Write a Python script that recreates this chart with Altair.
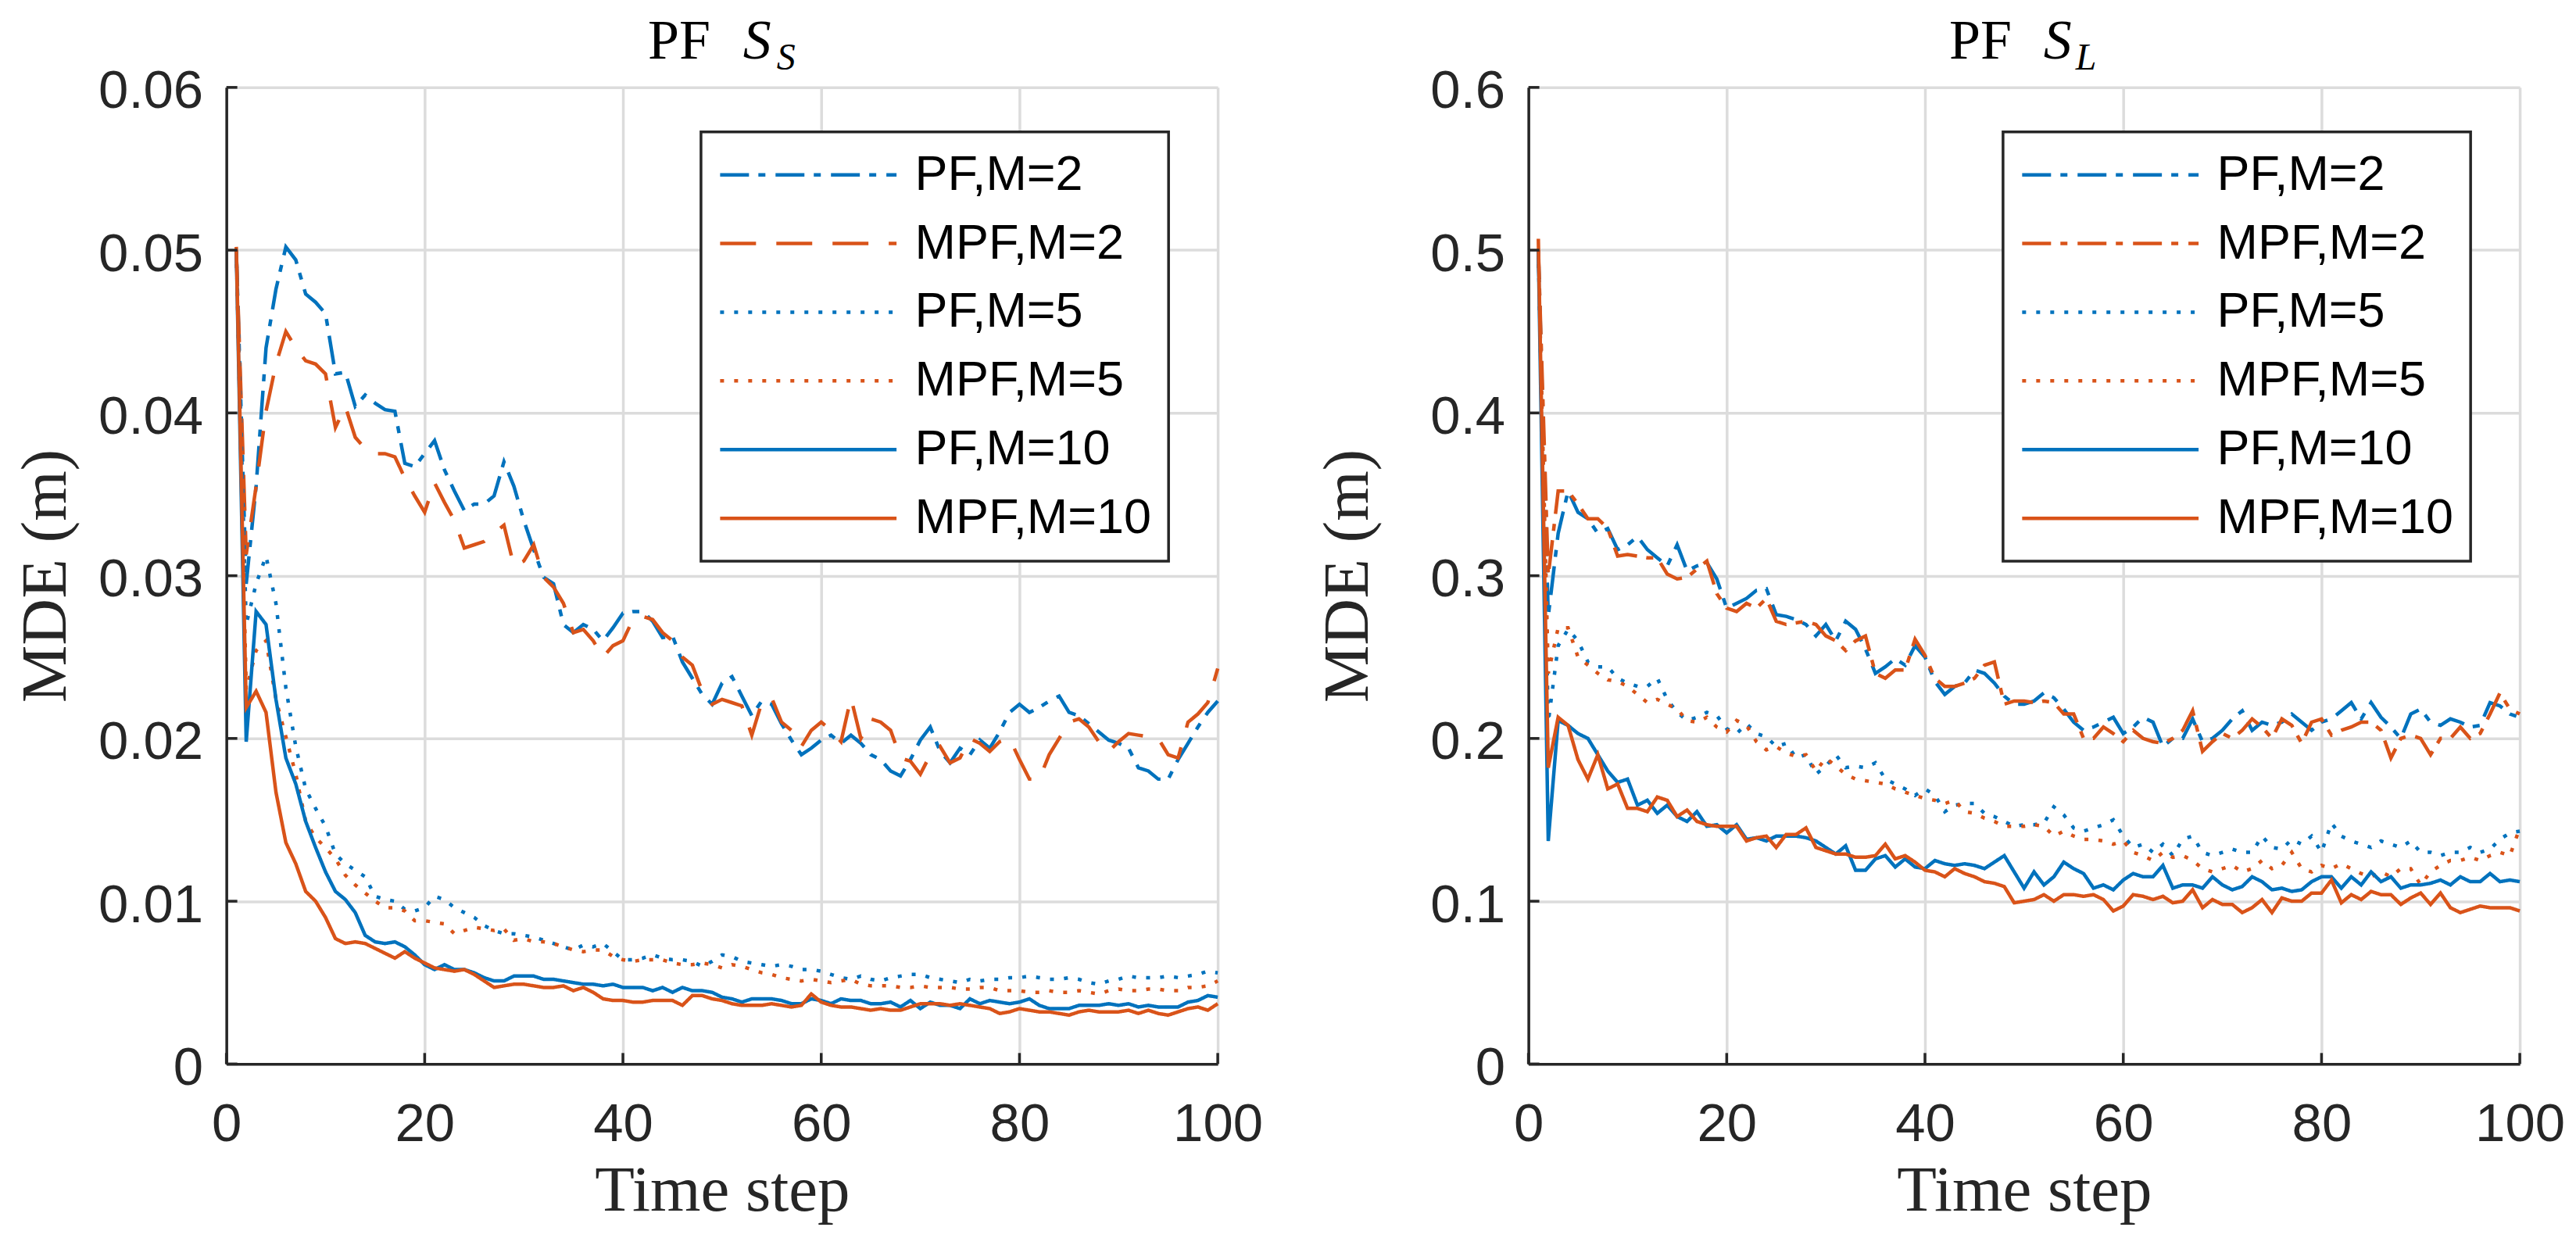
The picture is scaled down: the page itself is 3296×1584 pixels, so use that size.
import altair as alt
import pandas as pd

# ---------------- data ----------------
time_steps = list(range(1, 101))
series_names = ["PF,M=2", "MPF,M=2", "PF,M=5", "MPF,M=5", "PF,M=10", "MPF,M=10"]

x_ticks = [0, 20, 40, 60, 80, 100]
ss_y_ticks = [0, 0.01, 0.02, 0.03, 0.04, 0.05, 0.06]
sl_y_ticks = [0, 0.1, 0.2, 0.3, 0.4, 0.5, 0.6]

ss_title = ["PF", "S", "S"]
sl_title = ["PF", "S", "L"]
x_title = "Time step"
y_title = "MDE (m)"

# Left panel (S_S)
ss_pf2 = [0.0500, 0.0295, 0.0355, 0.0440, 0.0476, 0.0502, 0.0494, 0.0473, 0.0468, 0.0461,
          0.0424, 0.0425, 0.0404, 0.0411, 0.0406, 0.0402, 0.0401, 0.0369, 0.0367, 0.0375,
          0.0383, 0.0365, 0.0352, 0.0340, 0.0344, 0.0344, 0.0349, 0.0370, 0.0355, 0.0334,
          0.0316, 0.0299, 0.0295, 0.0270, 0.0265, 0.0270, 0.0267, 0.0260, 0.0268, 0.0277,
          0.0278, 0.0278, 0.0272, 0.0262, 0.0263, 0.0247, 0.0237, 0.0227, 0.0221, 0.0234,
          0.0238, 0.0226, 0.0214, 0.0223, 0.0221, 0.0209, 0.0199, 0.0190, 0.0194, 0.0199,
          0.0202, 0.0197, 0.0202, 0.0197, 0.0190, 0.0187, 0.0180, 0.0177, 0.0187, 0.0199,
          0.0207, 0.0192, 0.0185, 0.0194, 0.0190, 0.0199, 0.0194, 0.0204, 0.0216, 0.0221,
          0.0216, 0.0219, 0.0223, 0.0226, 0.0216, 0.0214, 0.0209, 0.0204, 0.0199, 0.0197,
          0.0194, 0.0182, 0.0180, 0.0175, 0.0175, 0.0187, 0.0197, 0.0207, 0.0216, 0.0223]
ss_mpf2 = [0.0500, 0.0313, 0.0355, 0.0401, 0.0430, 0.0450, 0.0440, 0.0432, 0.0430, 0.0424,
           0.0391, 0.0404, 0.0385, 0.0378, 0.0375, 0.0375, 0.0373, 0.0360, 0.0349, 0.0339,
           0.0357, 0.0345, 0.0334, 0.0317, 0.0319, 0.0321, 0.0326, 0.0331, 0.0306, 0.0309,
           0.0319, 0.0299, 0.0293, 0.0283, 0.0265, 0.0267, 0.0260, 0.0250, 0.0257, 0.0260,
           0.0273, 0.0275, 0.0273, 0.0265, 0.0260, 0.0250, 0.0245, 0.0229, 0.0221, 0.0224,
           0.0222, 0.0220, 0.0202, 0.0222, 0.0225, 0.0210, 0.0205, 0.0195, 0.0205, 0.0210,
           0.0205, 0.0198, 0.0225, 0.0200, 0.0212, 0.0210, 0.0205, 0.0188, 0.0186, 0.0178,
           0.0190, 0.0195, 0.0185, 0.0188, 0.0200, 0.0197, 0.0192, 0.0198, 0.0200, 0.0187,
           0.0175, 0.0175, 0.0190, 0.0200, 0.0210, 0.0212, 0.0207, 0.0198, 0.0192, 0.0198,
           0.0203, 0.0202, 0.0201, 0.0200, 0.0190, 0.0188, 0.0210, 0.0215, 0.0222, 0.0243]
ss_pf5 = [0.0500, 0.0270, 0.0295, 0.0312, 0.0283, 0.0231, 0.0195, 0.0169, 0.0157, 0.0146,
          0.0129, 0.0123, 0.0119, 0.0115, 0.0103, 0.0101, 0.0100, 0.0095, 0.0094, 0.0096,
          0.0103, 0.0101, 0.0096, 0.0093, 0.0090, 0.0085, 0.0082, 0.0080, 0.0080, 0.0079,
          0.0078, 0.0076, 0.0074, 0.0072, 0.0070, 0.0073, 0.0072, 0.0074, 0.0069, 0.0064,
          0.0064, 0.0065, 0.0067, 0.0065, 0.0064, 0.0064, 0.0063, 0.0060, 0.0063, 0.0067,
          0.0066, 0.0063, 0.0062, 0.0061, 0.0060, 0.0061, 0.0060, 0.0058, 0.0058, 0.0057,
          0.0055, 0.0053, 0.0052, 0.0054, 0.0052, 0.0051, 0.0053, 0.0054, 0.0055, 0.0055,
          0.0053, 0.0052, 0.0051, 0.0050, 0.0052, 0.0051, 0.0052, 0.0052, 0.0053, 0.0053,
          0.0054, 0.0053, 0.0052, 0.0052, 0.0053, 0.0052, 0.0050, 0.0049, 0.0051, 0.0052,
          0.0054, 0.0053, 0.0053, 0.0053, 0.0054, 0.0053, 0.0054, 0.0055, 0.0057, 0.0056]
ss_mpf5 = [0.0500, 0.0230, 0.0254, 0.0260, 0.0224, 0.0201, 0.0178, 0.0149, 0.0139, 0.0133,
           0.0126, 0.0116, 0.0110, 0.0105, 0.0100, 0.0096, 0.0096, 0.0094, 0.0088, 0.0088,
           0.0087, 0.0086, 0.0080, 0.0082, 0.0084, 0.0083, 0.0082, 0.0083, 0.0076, 0.0077,
           0.0075, 0.0075, 0.0074, 0.0072, 0.0070, 0.0069, 0.0070, 0.0070, 0.0066, 0.0064,
           0.0063, 0.0064, 0.0064, 0.0064, 0.0062, 0.0061, 0.0061, 0.0062, 0.0061, 0.0059,
           0.0061, 0.0060, 0.0058, 0.0056, 0.0055, 0.0053, 0.0052, 0.0051, 0.0052, 0.0051,
           0.0050, 0.0051, 0.0052, 0.0049, 0.0048, 0.0048, 0.0048, 0.0047, 0.0047, 0.0048,
           0.0047, 0.0047, 0.0047, 0.0046, 0.0046, 0.0047, 0.0047, 0.0045, 0.0045, 0.0045,
           0.0044, 0.0044, 0.0045, 0.0044, 0.0044, 0.0045, 0.0044, 0.0043, 0.0045, 0.0046,
           0.0045, 0.0045, 0.0046, 0.0046, 0.0045, 0.0045, 0.0047, 0.0047, 0.0048, 0.0051]
ss_pf10 = [0.0500, 0.0198, 0.0278, 0.0270, 0.0224, 0.0188, 0.0172, 0.0149, 0.0133, 0.0118,
           0.0106, 0.0101, 0.0093, 0.0079, 0.0075, 0.0074, 0.0075, 0.0072, 0.0067, 0.0061,
           0.0058, 0.0061, 0.0058, 0.0058, 0.0056, 0.0053, 0.0051, 0.0051, 0.0054, 0.0054,
           0.0054, 0.0052, 0.0052, 0.0051, 0.0050, 0.0049, 0.0049, 0.0048, 0.0049, 0.0047,
           0.0047, 0.0047, 0.0045, 0.0047, 0.0044, 0.0047, 0.0045, 0.0045, 0.0044, 0.0041,
           0.0040, 0.0038, 0.0040, 0.0040, 0.0040, 0.0039, 0.0037, 0.0037, 0.0040, 0.0039,
           0.0037, 0.0040, 0.0039, 0.0039, 0.0037, 0.0037, 0.0038, 0.0035, 0.0039, 0.0034,
           0.0038, 0.0036, 0.0036, 0.0034, 0.0040, 0.0037, 0.0039, 0.0038, 0.0037, 0.0038,
           0.0040, 0.0036, 0.0034, 0.0034, 0.0034, 0.0036, 0.0036, 0.0036, 0.0037, 0.0036,
           0.0037, 0.0035, 0.0036, 0.0035, 0.0035, 0.0035, 0.0038, 0.0039, 0.0042, 0.0041]
ss_mpf10 = [0.0502, 0.0219, 0.0229, 0.0216, 0.0167, 0.0136, 0.0123, 0.0106, 0.0100, 0.0090,
            0.0077, 0.0074, 0.0075, 0.0074, 0.0071, 0.0068, 0.0065, 0.0069, 0.0065, 0.0062,
            0.0059, 0.0058, 0.0057, 0.0058, 0.0055, 0.0051, 0.0047, 0.0048, 0.0049, 0.0049,
            0.0048, 0.0047, 0.0047, 0.0048, 0.0045, 0.0047, 0.0044, 0.0040, 0.0039, 0.0039,
            0.0038, 0.0038, 0.0039, 0.0039, 0.0039, 0.0036, 0.0042, 0.0042, 0.0040, 0.0039,
            0.0037, 0.0036, 0.0036, 0.0036, 0.0037, 0.0036, 0.0035, 0.0036, 0.0043, 0.0038,
            0.0036, 0.0035, 0.0035, 0.0034, 0.0033, 0.0034, 0.0033, 0.0033, 0.0035, 0.0037,
            0.0037, 0.0037, 0.0036, 0.0037, 0.0036, 0.0035, 0.0034, 0.0031, 0.0032, 0.0034,
            0.0033, 0.0032, 0.0032, 0.0031, 0.0030, 0.0032, 0.0033, 0.0032, 0.0032, 0.0032,
            0.0033, 0.0031, 0.0033, 0.0031, 0.0030, 0.0032, 0.0034, 0.0035, 0.0033, 0.0037]

# Right panel (S_L)
sl_pf2 = [0.500, 0.275, 0.326, 0.352, 0.339, 0.335, 0.326, 0.329, 0.316, 0.319,
          0.324, 0.316, 0.311, 0.306, 0.319, 0.303, 0.306, 0.308, 0.298, 0.280,
          0.283, 0.286, 0.291, 0.292, 0.276, 0.275, 0.273, 0.270, 0.263, 0.270,
          0.260, 0.272, 0.267, 0.255, 0.240, 0.244, 0.249, 0.245, 0.257, 0.250,
          0.235, 0.227, 0.232, 0.234, 0.242, 0.240, 0.234, 0.226, 0.221, 0.221,
          0.223, 0.228, 0.225, 0.218, 0.210, 0.205, 0.207, 0.210, 0.213, 0.203,
          0.207, 0.213, 0.210, 0.195, 0.200, 0.200, 0.212, 0.198, 0.200, 0.205,
          0.212, 0.217, 0.205, 0.210, 0.208, 0.210, 0.215, 0.210, 0.205, 0.210,
          0.212, 0.217, 0.222, 0.212, 0.222, 0.213, 0.207, 0.200, 0.215, 0.218,
          0.210, 0.208, 0.212, 0.210, 0.207, 0.208, 0.222, 0.220, 0.215, 0.213]
sl_mpf2 = [0.500, 0.300, 0.352, 0.352, 0.344, 0.335, 0.335, 0.329, 0.312, 0.313,
           0.312, 0.311, 0.311, 0.301, 0.298, 0.299, 0.304, 0.309, 0.289, 0.280,
           0.278, 0.283, 0.280, 0.286, 0.272, 0.270, 0.271, 0.272, 0.270, 0.263,
           0.260, 0.254, 0.260, 0.263, 0.240, 0.237, 0.242, 0.242, 0.261, 0.251,
           0.237, 0.232, 0.232, 0.234, 0.237, 0.245, 0.247, 0.221, 0.223, 0.223,
           0.222, 0.223, 0.222, 0.215, 0.215, 0.200, 0.200, 0.207, 0.203, 0.198,
           0.205, 0.200, 0.198, 0.197, 0.200, 0.205, 0.217, 0.192, 0.198, 0.203,
           0.200, 0.205, 0.212, 0.207, 0.200, 0.212, 0.208, 0.197, 0.210, 0.212,
           0.202, 0.205, 0.207, 0.210, 0.210, 0.205, 0.188, 0.200, 0.202, 0.200,
           0.190, 0.200, 0.200, 0.207, 0.200, 0.203, 0.215, 0.228, 0.218, 0.215]
sl_pf5 = [0.500, 0.210, 0.257, 0.267, 0.260, 0.247, 0.244, 0.244, 0.237, 0.234,
          0.232, 0.232, 0.237, 0.224, 0.216, 0.211, 0.213, 0.216, 0.214, 0.206,
          0.203, 0.209, 0.203, 0.201, 0.195, 0.197, 0.188, 0.190, 0.178, 0.183,
          0.190, 0.182, 0.183, 0.182, 0.185, 0.175, 0.172, 0.169, 0.165, 0.169,
          0.165, 0.155, 0.159, 0.160, 0.160, 0.154, 0.152, 0.149, 0.146, 0.147,
          0.147, 0.148, 0.158, 0.153, 0.145, 0.143, 0.145, 0.147, 0.150, 0.140,
          0.133, 0.135, 0.130, 0.135, 0.128, 0.138, 0.140, 0.130, 0.128, 0.130,
          0.132, 0.130, 0.130, 0.140, 0.133, 0.132, 0.138, 0.135, 0.140, 0.130,
          0.148, 0.140, 0.137, 0.135, 0.133, 0.137, 0.135, 0.133, 0.137, 0.130,
          0.130, 0.128, 0.130, 0.130, 0.133, 0.130, 0.132, 0.138, 0.142, 0.143]
sl_mpf5 = [0.500, 0.240, 0.268, 0.268, 0.250, 0.245, 0.240, 0.236, 0.235, 0.232,
           0.227, 0.222, 0.224, 0.221, 0.218, 0.211, 0.210, 0.213, 0.207, 0.204,
           0.211, 0.208, 0.198, 0.193, 0.195, 0.191, 0.189, 0.190, 0.180, 0.188,
           0.183, 0.178, 0.175, 0.174, 0.173, 0.172, 0.169, 0.167, 0.165, 0.163,
           0.162, 0.160, 0.162, 0.155, 0.154, 0.151, 0.149, 0.146, 0.146, 0.146,
           0.147, 0.146, 0.140, 0.143, 0.140, 0.138, 0.138, 0.137, 0.135, 0.137,
           0.130, 0.128, 0.125, 0.130, 0.127, 0.128, 0.125, 0.120, 0.118, 0.120,
           0.122, 0.118, 0.120, 0.125, 0.120, 0.122, 0.130, 0.120, 0.118, 0.122,
           0.120, 0.123, 0.120, 0.117, 0.115, 0.118, 0.115, 0.120, 0.120, 0.110,
           0.118, 0.122, 0.125, 0.125, 0.127, 0.125, 0.128, 0.130, 0.128, 0.145]
sl_pf10 = [0.500, 0.137, 0.211, 0.208, 0.203, 0.200, 0.190, 0.180, 0.173, 0.175,
           0.159, 0.162, 0.154, 0.159, 0.152, 0.149, 0.155, 0.146, 0.147, 0.142,
           0.147, 0.138, 0.139, 0.137, 0.140, 0.140, 0.140, 0.139, 0.137, 0.133,
           0.129, 0.134, 0.119, 0.119, 0.126, 0.128, 0.121, 0.126, 0.121, 0.120,
           0.125, 0.123, 0.122, 0.123, 0.122, 0.120, 0.124, 0.128, 0.118, 0.108,
           0.118, 0.110, 0.115, 0.124, 0.120, 0.117, 0.108, 0.110, 0.107, 0.113,
           0.117, 0.115, 0.115, 0.122, 0.108, 0.110, 0.110, 0.108, 0.115, 0.110,
           0.107, 0.109, 0.115, 0.112, 0.107, 0.108, 0.106, 0.107, 0.112, 0.115,
           0.115, 0.108, 0.115, 0.110, 0.118, 0.112, 0.115, 0.108, 0.110, 0.110,
           0.111, 0.113, 0.110, 0.115, 0.112, 0.112, 0.117, 0.112, 0.113, 0.112]
sl_mpf10 = [0.507, 0.182, 0.213, 0.208, 0.187, 0.175, 0.190, 0.169, 0.172, 0.157,
            0.157, 0.155, 0.164, 0.162, 0.152, 0.156, 0.149, 0.147, 0.146, 0.146,
            0.146, 0.137, 0.139, 0.140, 0.133, 0.141, 0.141, 0.145, 0.133, 0.131,
            0.129, 0.129, 0.127, 0.127, 0.128, 0.135, 0.126, 0.128, 0.124, 0.119,
            0.118, 0.115, 0.120, 0.117, 0.115, 0.112, 0.111, 0.109, 0.099, 0.100,
            0.101, 0.104, 0.100, 0.104, 0.104, 0.103, 0.104, 0.101, 0.094, 0.097,
            0.104, 0.103, 0.101, 0.103, 0.099, 0.100, 0.107, 0.096, 0.101, 0.098,
            0.098, 0.093, 0.096, 0.101, 0.093, 0.102, 0.100, 0.100, 0.105, 0.105,
            0.113, 0.099, 0.104, 0.101, 0.106, 0.104, 0.104, 0.098, 0.102, 0.105,
            0.098, 0.105, 0.096, 0.093, 0.095, 0.097, 0.096, 0.096, 0.096, 0.094]

# ---------------- styles ----------------
BLUE = "#0072BD"
ORANGE = "#D95319"
AXIS_COLOR = "#262626"
GRID_COLOR = "#dcdcdc"
series_colors = [BLUE, ORANGE, BLUE, ORANGE, BLUE, ORANGE]
DASHDOT = [37, 12, 9, 13]
DASHED = [46, 26]
DOTTED = [5, 13]
SOLID = [1, 0]
ss_dashes = [DASHDOT, DASHED, DOTTED, DOTTED, SOLID, SOLID]
sl_dashes = [DASHDOT, DASHDOT, DOTTED, DOTTED, SOLID, SOLID]

W = 1270
H = 1251
TICK_LEN = 14
LINE_W = 4.5
AX_W = 3.5
TITLE_SIZE = 72
SUB_SIZE = 48
TITLE_BASE = -37
SUB_BASE = -23
AXIS_TITLE_SIZE = 83


def build_df(values):
    rows = []
    for name, vals in zip(series_names, values):
        for t, v in zip(time_steps, vals):
            rows.append({"t": t, "mde": v, "series": name})
    return pd.DataFrame(rows)


def title_piece(text, x, y, size, style):
    return alt.Chart(pd.DataFrame({"label": [text]})).mark_text(
        align="left", baseline="alphabetic", font="Liberation Serif",
        fontSize=size, fontStyle=style, color="#000000"
    ).encode(text="label:N", x=alt.value(x), y=alt.value(y))


def panel(values, y_ticks, y_max, dashes, title_parts, title_x, y_fmt):
    df = build_df(values)
    xs = alt.Scale(domain=[0, 100], nice=False, zero=False)
    ys = alt.Scale(domain=[0, y_max], nice=False)
    common = dict(grid=True, gridColor=GRID_COLOR, gridWidth=AX_W,
                  domainColor=AXIS_COLOR, domainWidth=AX_W, ticks=False, tickSize=0,
                  labelFont="Liberation Sans", labelFontSize=69, labelColor=AXIS_COLOR,
                  titleFont="Liberation Serif", titleFontSize=AXIS_TITLE_SIZE,
                  titleFontWeight="normal", titleColor=AXIS_COLOR, labelFlush=False)
    x_axis = alt.Axis(
        values=x_ticks, title=x_title, titleY=187, titleBaseline="alphabetic",
        labelPadding=98, labelBaseline="alphabetic", format="d", **common)
    y_axis = alt.Axis(
        values=y_ticks, title=y_title, titleX=-206, titleY=H / 2,
        titleBaseline="alphabetic", titleAlign="center",
        labelPadding=30, labelBaseline="alphabetic", labelOffset=26,
        format=y_fmt, **common)
    legend = alt.Legend(
        title=None, orient="none", legendX=608, legendY=57, direction="vertical",
        symbolType="stroke", symbolSize=226 * 226, symbolStrokeWidth=LINE_W,
        symbolOffset=0, labelFont="Liberation Sans", labelFontSize=63,
        labelColor="#000000", labelOffset=21, labelLimit=1000,
        padding=22, clipHeight=66, rowPadding=22,
        strokeColor=AXIS_COLOR, fillColor="#ffffff",
    )
    lines = alt.Chart(df).mark_line(strokeWidth=LINE_W).encode(
        x=alt.X("t:Q", scale=xs, axis=x_axis, title=x_title),
        y=alt.Y("mde:Q", scale=ys, axis=y_axis, title=y_title),
        color=alt.Color("series:N", scale=alt.Scale(domain=series_names, range=series_colors),
                        legend=legend),
        strokeDash=alt.StrokeDash("series:N", scale=alt.Scale(domain=series_names, range=dashes),
                                  legend=legend),
    )
    xt = alt.Chart(pd.DataFrame({"t": x_ticks})).mark_rule(
        color=AXIS_COLOR, strokeWidth=AX_W).encode(
        x=alt.X("t:Q", scale=xs, axis=x_axis, title=x_title),
        y=alt.value(H), y2=alt.value(H - TICK_LEN))
    yt = alt.Chart(pd.DataFrame({"mde": y_ticks})).mark_rule(
        color=AXIS_COLOR, strokeWidth=AX_W).encode(
        y=alt.Y("mde:Q", scale=ys, axis=y_axis, title=y_title),
        x=alt.value(0), x2=alt.value(TICK_LEN))
    t1 = title_piece(title_parts[0], title_x[0], TITLE_BASE, TITLE_SIZE, "normal")
    t2 = title_piece(title_parts[1], title_x[1], TITLE_BASE, TITLE_SIZE, "italic")
    t3 = title_piece(title_parts[2], title_x[2], SUB_BASE, SUB_SIZE, "italic")
    return alt.layer(lines, xt, yt, t1, t2, t3).properties(width=W, height=H)


left = panel([ss_pf2, ss_mpf2, ss_pf5, ss_mpf5, ss_pf10, ss_mpf10],
             ss_y_ticks, 0.06, ss_dashes, ss_title, [540, 662, 705], ".2~f")
right = panel([sl_pf2, sl_mpf2, sl_pf5, sl_mpf5, sl_pf10, sl_mpf10],
              sl_y_ticks, 0.6, sl_dashes, sl_title, [539, 660, 701], ".1~f")

chart = alt.hconcat(left, right, spacing=398, bounds="flush").resolve_scale(
    x="independent", y="independent", color="independent", strokeDash="independent"
).resolve_legend(
    color="independent", strokeDash="independent"
).properties(
    padding={"left": 9, "top": 7, "right": 5, "bottom": 5},
    background="#ffffff",
).configure_view(
    stroke="transparent"
).configure_legend(
    strokeWidth=AX_W
)

chart.save("out.html", embed_options={"renderer": "svg", "actions": False})
